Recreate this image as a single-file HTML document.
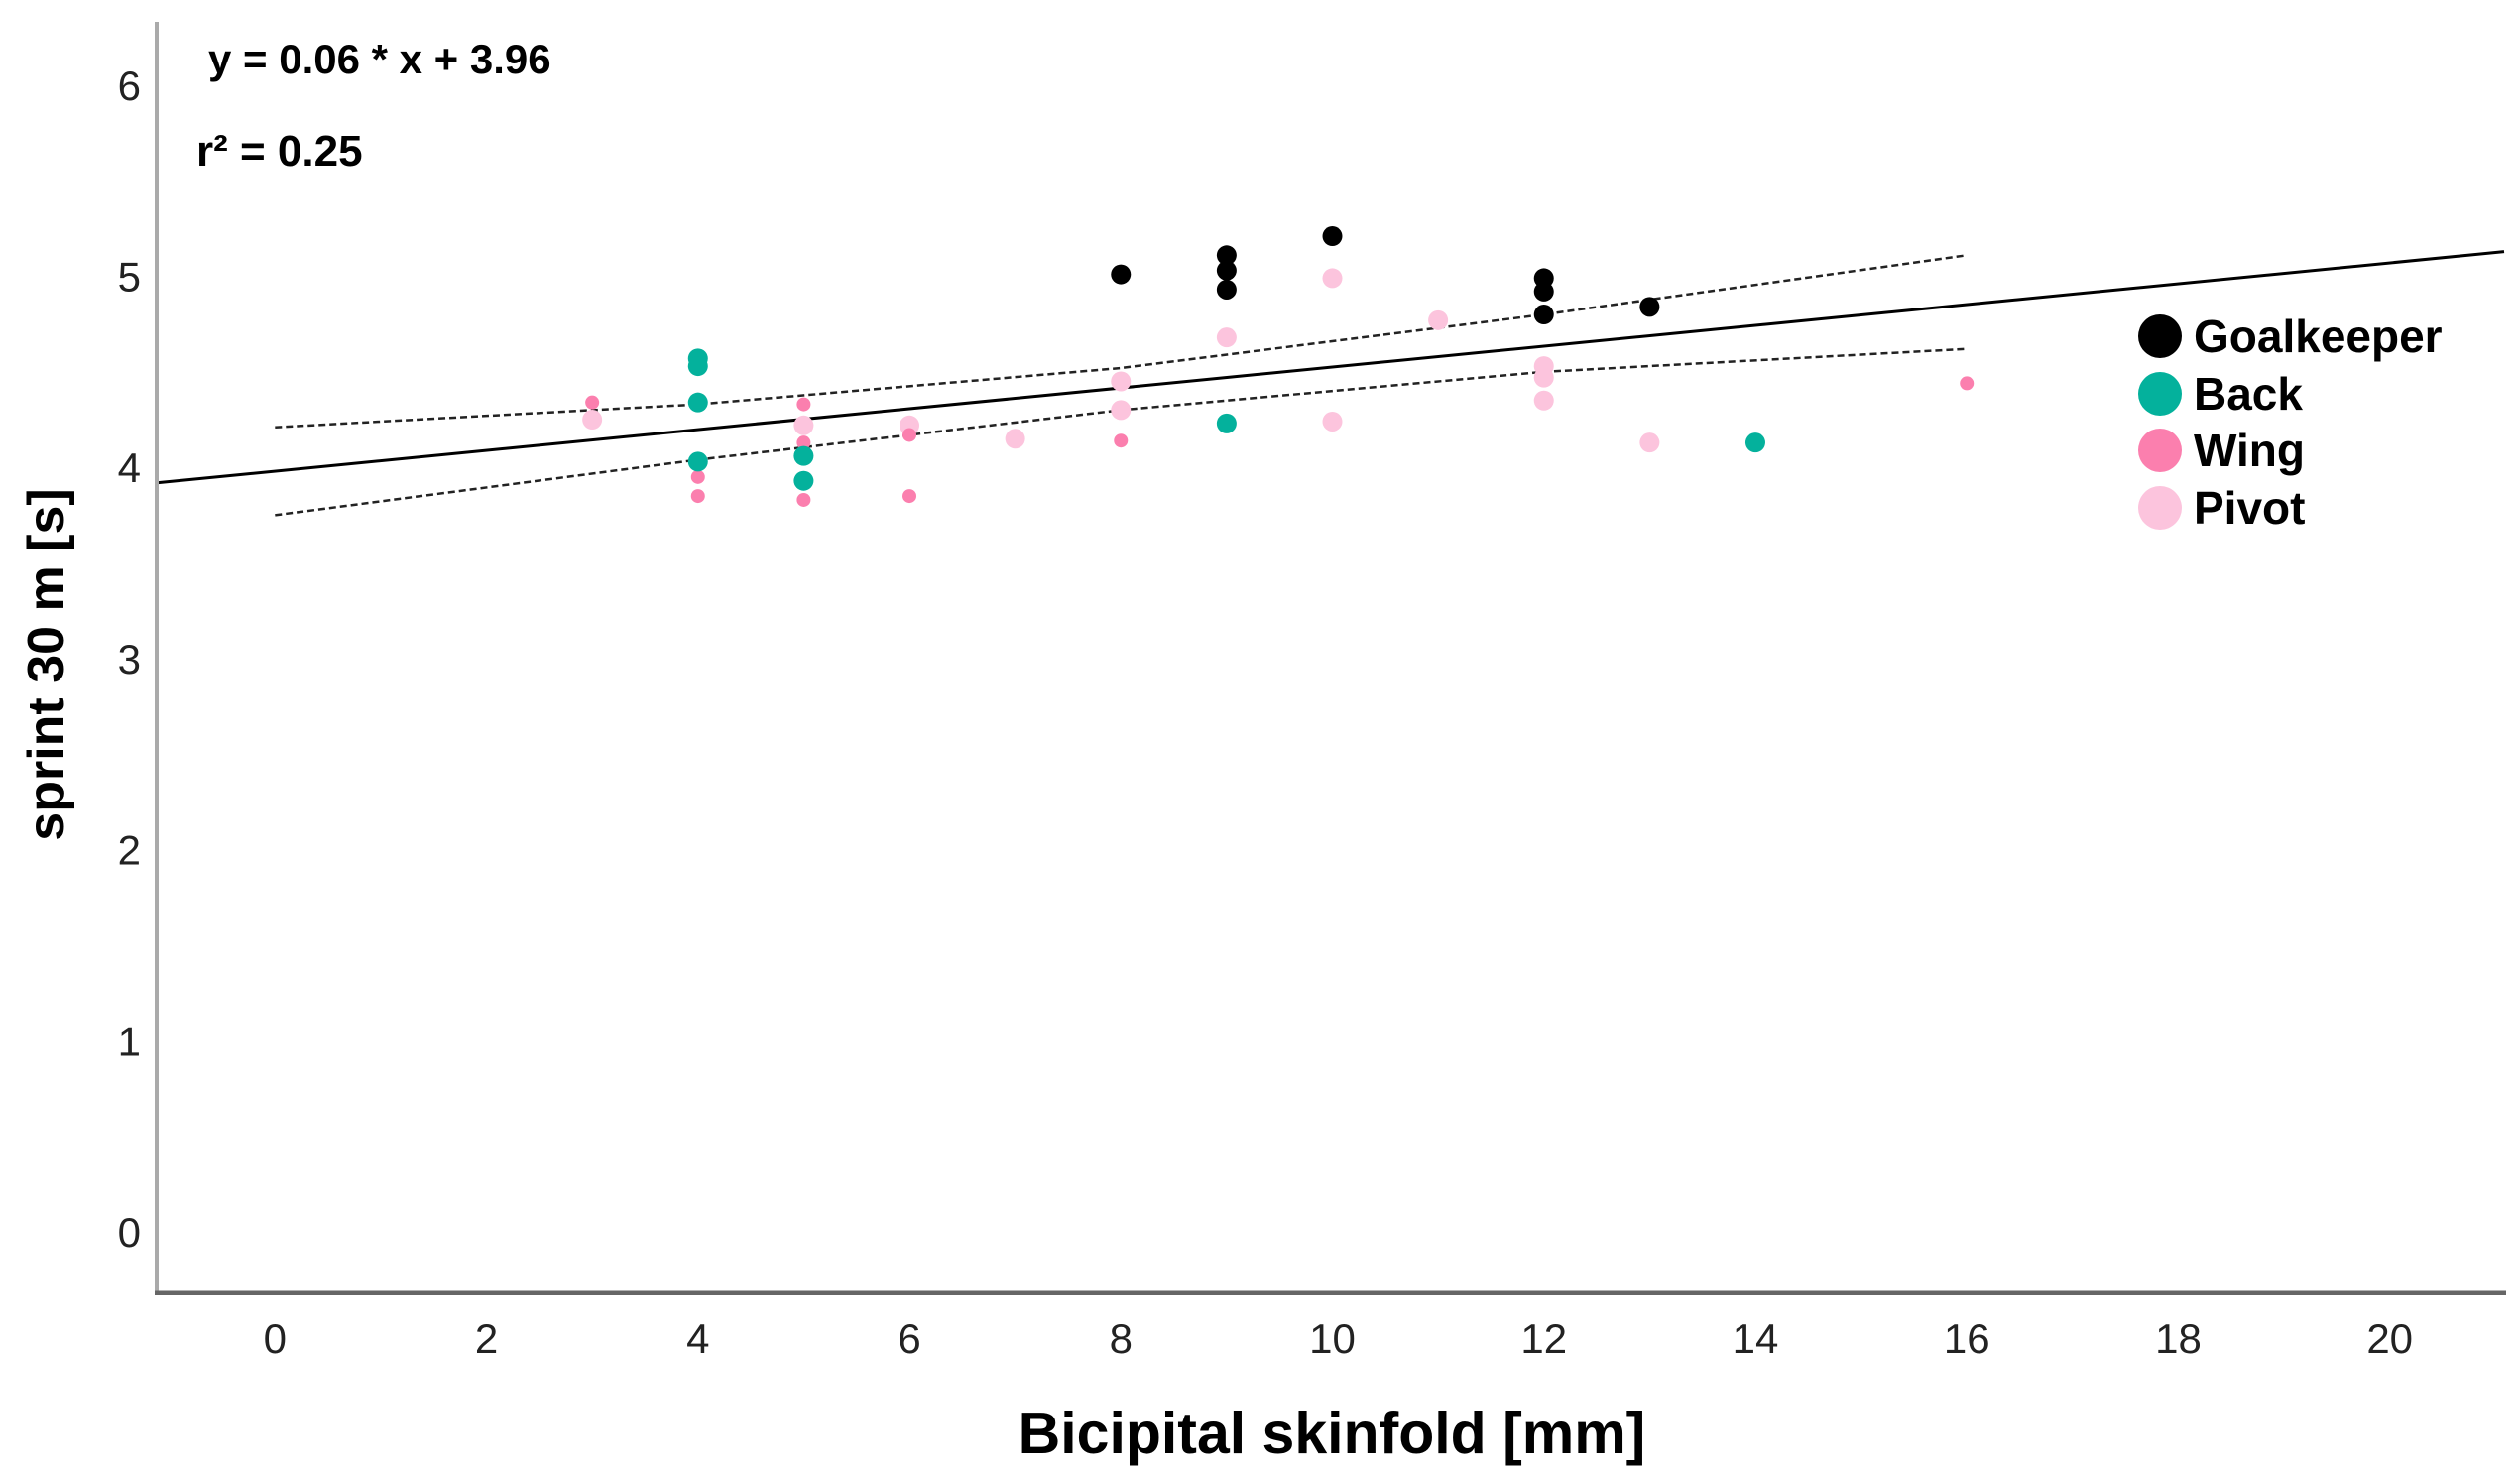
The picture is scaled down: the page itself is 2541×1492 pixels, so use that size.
<!DOCTYPE html>
<html><head><meta charset="utf-8"><style>
html,body{margin:0;padding:0;background:#fff;}
svg{display:block;font-family:"Liberation Sans",Arial,sans-serif;}
</style></head><body>
<svg id="chart" width="2541" height="1492" viewBox="0 0 2541 1492">
<g id="grid"></g>
<g id="marks"></g>
<g id="axes"></g>
</svg>
<script>
const xTicks=[0,2,4,6,8,10,12,14,16,18,20];
const yTicks=[0,1,2,3,4,5,6];
const gkX=[8,9,9,9,10,12,12,12,13];
const gkY=[5.01,5.11,5.03,4.93,5.21,4.99,4.92,4.80,4.84];
const backX=[4,4,4,4,5,5,9,14];
const backY=[4.57,4.53,4.34,4.03,4.06,3.93,4.23,4.13];
const wingX=[3,4,4,5,5,5,6,6,8,16];
const wingY=[4.34,3.95,3.85,4.33,4.13,3.83,4.17,3.85,4.14,4.44];
const pivotX=[3,5,6,7,8,8,9,10,10,11,12,12,12,13];
const pivotY=[4.25,4.22,4.22,4.15,4.45,4.30,4.68,4.99,4.24,4.77,4.53,4.47,4.35,4.13];
const fitSlope=0.0545, fitIntercept=3.98;
const ciX=[0,4,8,12,16];
const ciUpper=[4.21,4.33,4.52,4.80,5.11];
const ciLower=[3.75,4.04,4.30,4.50,4.62];

const NS="http://www.w3.org/2000/svg";
const X0=277.3, XU=106.62, Y0=1242, YU=192.7;
const xs=v=>X0+v*XU, ys=v=>Y0-v*YU;
const xMin=(158-X0)/XU, xMax=(2525-X0)/XU;
function el(tag,attrs,parent,text){const e=document.createElementNS(NS,tag);for(const k in attrs)e.setAttribute(k,attrs[k]);if(text!==undefined)e.textContent=text;parent.appendChild(e);return e;}
const marks=document.getElementById('marks'), axes=document.getElementById('axes');

let a=el('line',{x1:158,y1:22,x2:158,y2:1303,stroke:'#aaa','stroke-width':4},axes);


a=el('line',{x1:156,y1:1303,x2:2527,y2:1303,stroke:'#666','stroke-width':5},axes);


xTicks.forEach(v=>{const t=el('text',{x:xs(v),y:1364,'font-size':42,'text-anchor':'middle',fill:'#222'},axes,String(v));

});
yTicks.forEach(v=>{const t=el('text',{x:142,y:ys(v)+15,'font-size':42,'text-anchor':'end',fill:'#222'},axes,String(v));

});
let t=el('text',{x:1343,y:1465,'font-size':59,'font-weight':'bold','text-anchor':'middle'},axes,'Bicipital skinfold [mm]');


t=el('text',{x:0,y:0,'font-size':52,'font-weight':'bold','text-anchor':'middle',transform:'translate(64,670) rotate(-90)'},axes,'sprint 30 m [s]');


t=el('text',{x:210,y:74,'font-size':42,'font-weight':'bold'},axes,'y = 0.06 * x + 3.96');


t=el('text',{x:198,y:167,'font-size':44,'font-weight':'bold'},axes,'r² = 0.25');



let l=el('line',{x1:xs(xMin),y1:ys(fitIntercept+fitSlope*xMin),x2:xs(xMax),y2:ys(fitIntercept+fitSlope*xMax),stroke:'#000','stroke-width':3},marks);


const ciPath=arr=>ciX.map((x,i)=>(i?'L':'M')+xs(x)+','+ys(arr[i])).join(' ');
l=el('path',{d:ciPath(ciUpper),fill:'none',stroke:'#222','stroke-width':2.5,'stroke-dasharray':'7,4'},marks);


l=el('path',{d:ciPath(ciLower),fill:'none',stroke:'#222','stroke-width':2.5,'stroke-dasharray':'7,4'},marks);



function series(xArr,yArr,color,r,name){
  xArr.forEach((x,i)=>{const c=el('circle',{cx:xs(x),cy:ys(yArr[i]),r:r,fill:color},marks);
  
  });
}
series(pivotX,pivotY,'#fcc4dd',10,'pivot-point');
series(wingX,wingY,'#fb7fae',7,'wing-point');
series(backX,backY,'#04b19c',10,'back-point');
series(gkX,gkY,'#000',10,'goalkeeper-point');

const legNames=['Goalkeeper','Back','Wing','Pivot'];
const legColors=['#000','#04b19c','#fb7fae','#fcc4dd'];
const legY=[339,397,454,512];
legNames.forEach((n,i)=>{
  const g=el('g',{},axes);
  
  
  el('circle',{cx:2178,cy:legY[i],r:22,fill:legColors[i]},g);
  el('text',{x:2212,y:legY[i]+16,'font-size':46,'font-weight':'bold'},g,n);
});
</script>
</body></html>
